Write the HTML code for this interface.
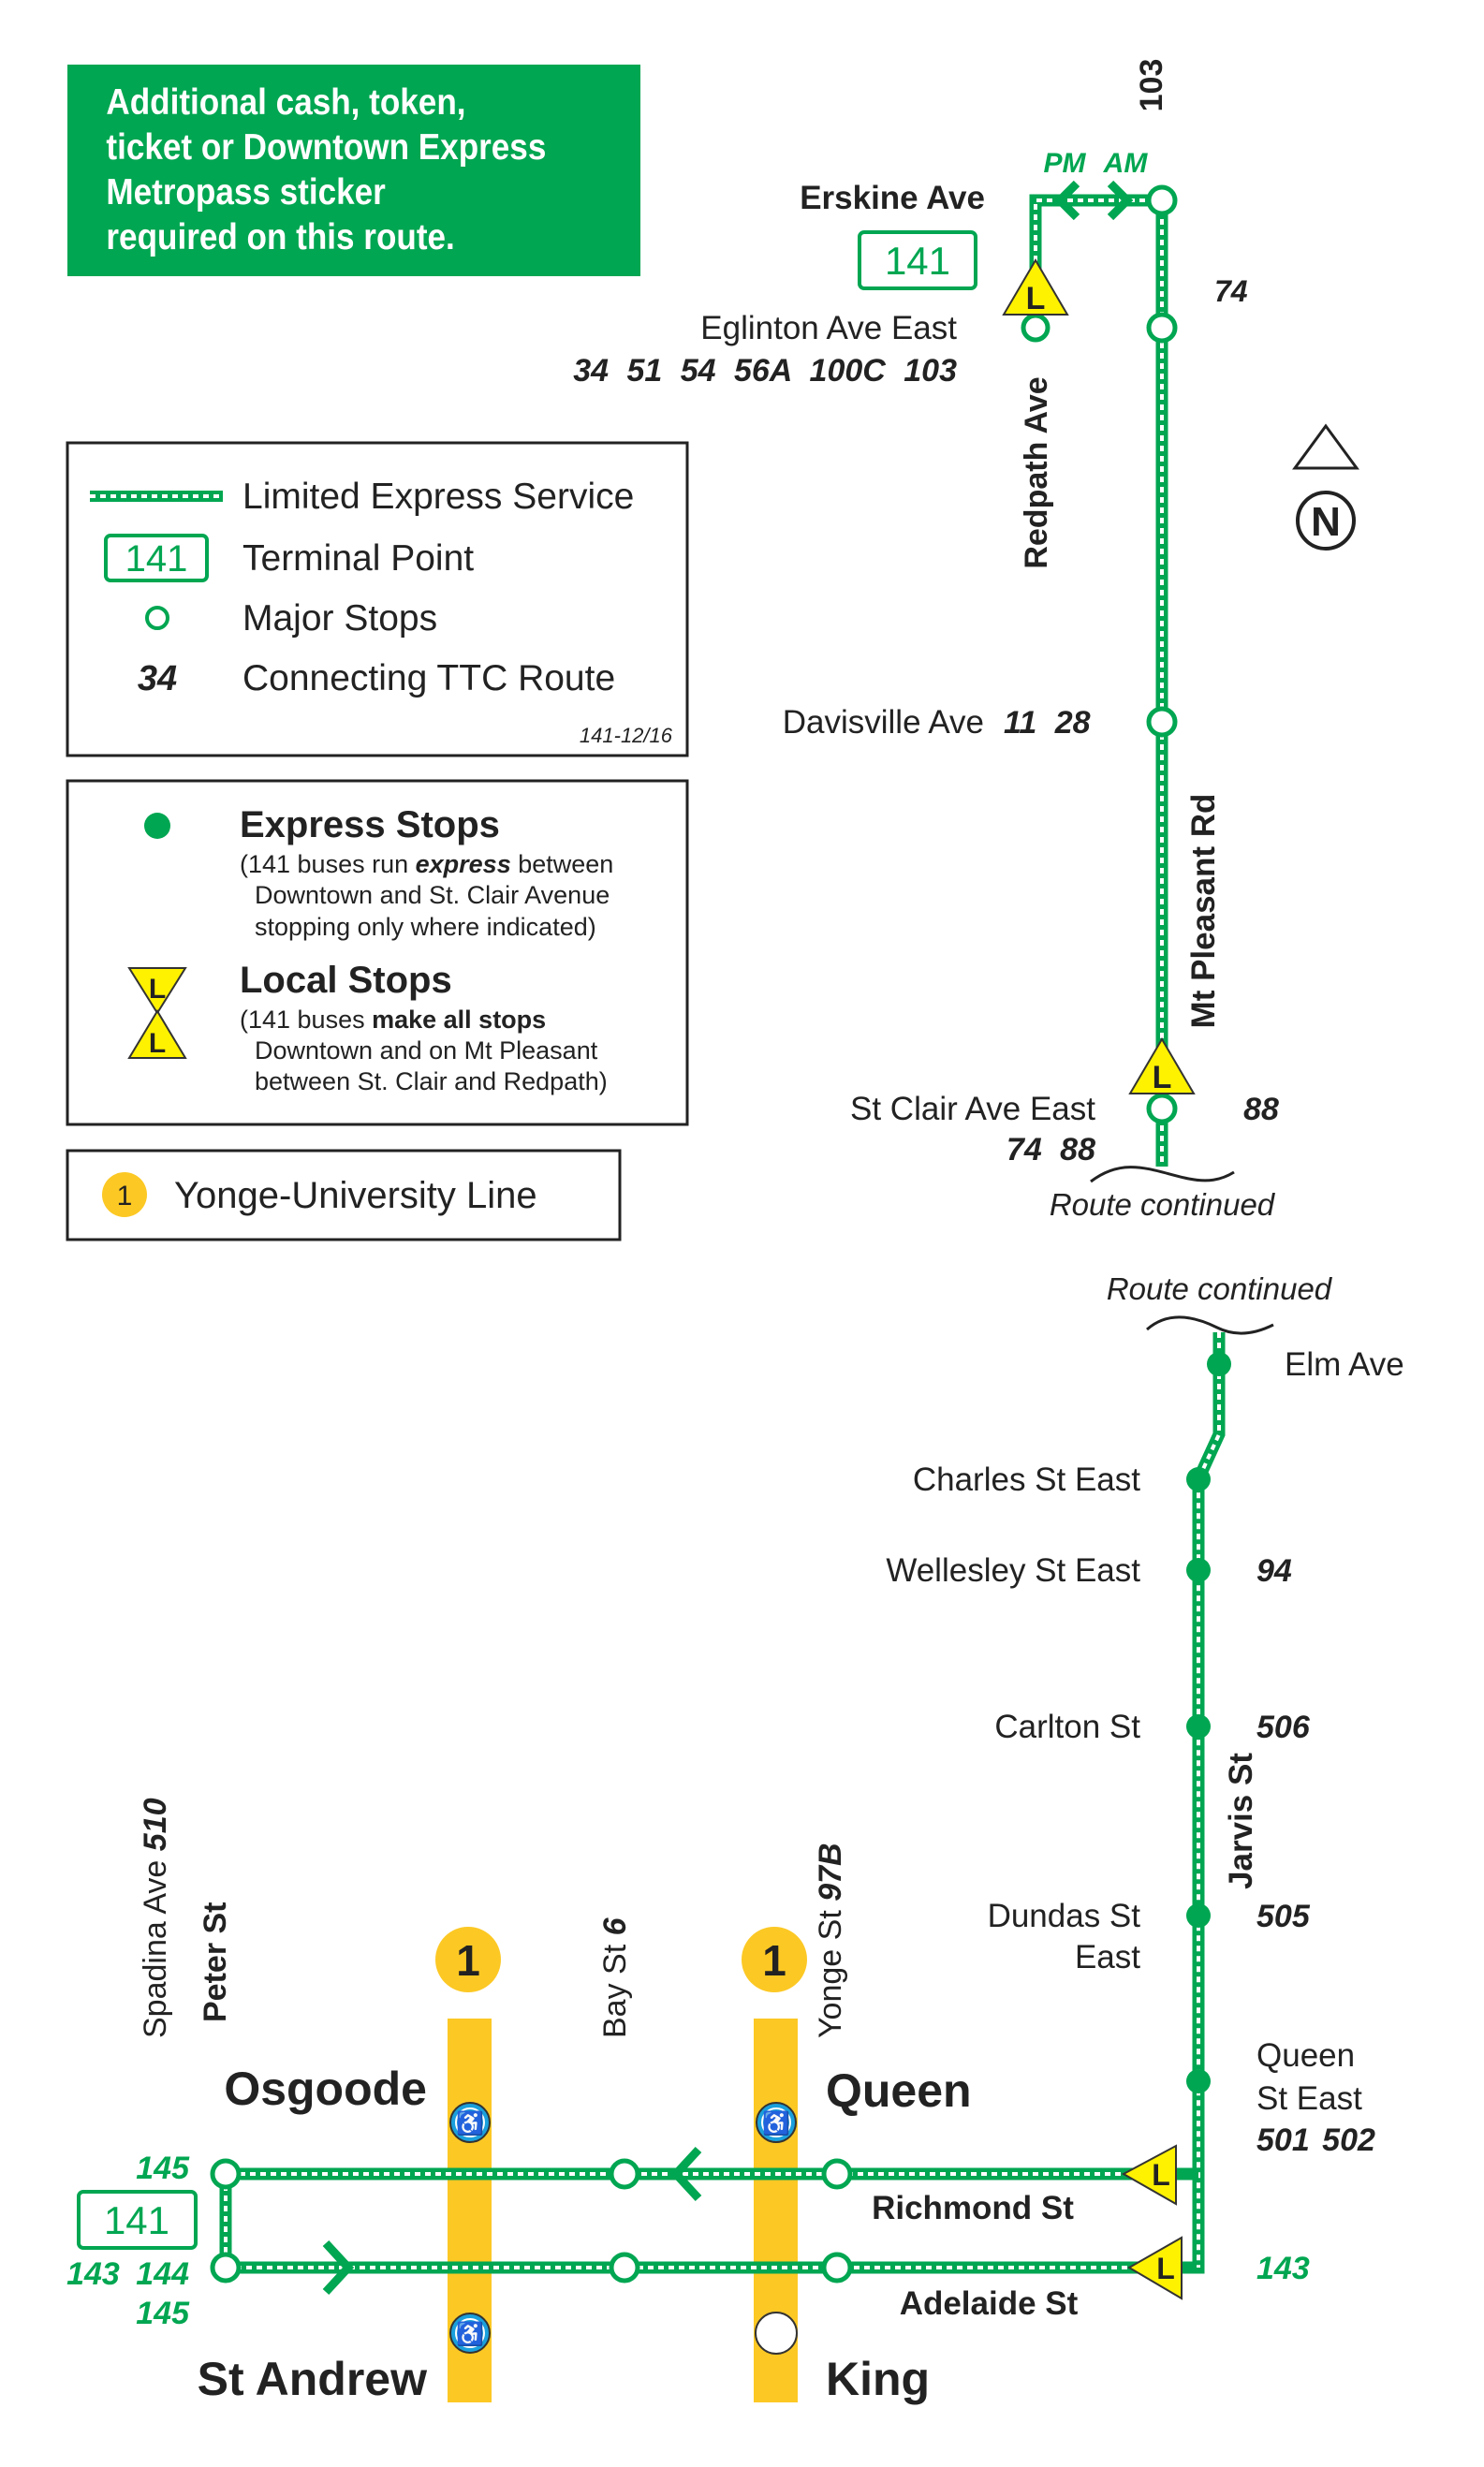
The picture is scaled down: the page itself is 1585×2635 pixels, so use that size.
<!DOCTYPE html>
<html><head><meta charset="utf-8"><style>
html,body{margin:0;padding:0;background:#fff}
svg{display:block}
text{font-family:"Liberation Sans",sans-serif}
</style></head><body>
<svg width="1585" height="2635" viewBox="0 0 1585 2635" xmlns="http://www.w3.org/2000/svg">
<defs>
<g id="tri"><polygon points="0,-32 -34,26 34,26" fill="#fff200" stroke="#333" stroke-width="2"/><text x="0" y="20" font-size="34" font-weight="bold" text-anchor="middle" fill="#222">L</text></g>
<g id="wc"><circle r="21" fill="#1aa0dc" stroke="#333" stroke-width="2"/><circle r="15" fill="none" stroke="#fff" stroke-width="2"/><text y="9" font-size="24" text-anchor="middle" fill="#fff">♿</text></g>
</defs>
<!-- top green box -->
<rect x="72" y="69" width="612" height="226" fill="#00a651"/>
<g font-size="39" font-weight="bold" fill="#fff" transform="scale(0.9,1)">
<text x="126" y="122">Additional cash, token,</text>
<text x="126" y="170">ticket or Downtown Express</text>
<text x="126" y="218">Metropass sticker</text>
<text x="126" y="266">required on this route.</text>
</g>

<!-- Northern route lines -->
<g fill="none">
<polyline points="1106,312 1106,214 1241,214 1241,1246" stroke="#00a651" stroke-width="13"/>
<polyline points="1106,312 1106,214 1241,214 1241,1246" stroke="#fff" stroke-width="4" stroke-dasharray="6 5"/>
<line x1="1106" y1="312" x2="1106" y2="350" stroke="#00a651" stroke-width="6"/>
</g>
<polyline points="1130,196 1148,214 1130,232" fill="none" stroke="#00a651" stroke-width="9" transform="rotate(180 1140 214)"/>
<polyline points="1186,196 1204,214 1186,232" fill="none" stroke="#00a651" stroke-width="9"/>
<g fill="#fff" stroke="#00a651" stroke-width="5">
<circle cx="1241" cy="214" r="14"/><circle cx="1241" cy="350" r="14"/><circle cx="1106" cy="350" r="13"/>
<circle cx="1241" cy="771" r="14"/><circle cx="1241" cy="1184" r="14"/>
</g>
<use href="#tri" x="1106" y="310"/>
<use href="#tri" x="1241" y="1142"/>
<path d="M1165,1262 C1200,1235 1230,1250 1265,1258 C1290,1264 1305,1260 1318,1252" fill="none" stroke="#222" stroke-width="3"/>

<text x="1251" y="101" font-size="34" font-weight="bold" fill="#222" text-anchor="middle" transform="rotate(-90 1241 101)">103</text>
<text x="1137" y="184" font-size="30" font-weight="bold" font-style="italic" fill="#00a651" text-anchor="middle">PM</text>
<text x="1202" y="184" font-size="30" font-weight="bold" font-style="italic" fill="#00a651" text-anchor="middle">AM</text>
<text x="1052" y="223" font-size="35" font-weight="bold" fill="#222" text-anchor="end">Erskine Ave</text>
<rect x="918" y="248" width="124" height="60" rx="5" fill="#fff" stroke="#00a651" stroke-width="4"/>
<text x="980" y="293" font-size="42" fill="#00a651" text-anchor="middle">141</text>
<text x="1297" y="322" font-size="32" font-weight="bold" font-style="italic" fill="#222">74</text>
<text x="1022" y="362" font-size="35" fill="#222" text-anchor="end">Eglinton Ave East</text>
<text x="1022" y="407" font-size="34" font-weight="bold" font-style="italic" fill="#222" text-anchor="end" word-spacing="10">34 51 54 56A 100C 103</text>
<text x="1106" y="517" font-size="34" font-weight="bold" fill="#222" text-anchor="middle" transform="rotate(-90 1106 505)">Redpath Ave</text>
<polygon points="1416,455 1383,500 1449,500" fill="none" stroke="#222" stroke-width="3"/>
<circle cx="1416" cy="556" r="30" fill="none" stroke="#222" stroke-width="4"/>
<text x="1416" y="572" font-size="44" font-weight="bold" fill="#222" text-anchor="middle">N</text>
<text x="1051" y="783" font-size="35" fill="#222" text-anchor="end">Davisville Ave</text>
<text x="1072" y="783" font-size="34" font-weight="bold" font-style="italic" fill="#222" word-spacing="10">11 28</text>
<text x="1285" y="985" font-size="35" font-weight="bold" fill="#222" text-anchor="middle" transform="rotate(-90 1285 973)">Mt Pleasant Rd</text>
<text x="1170" y="1196" font-size="35" fill="#222" text-anchor="end">St Clair Ave East</text>
<text x="1170" y="1239" font-size="34" font-weight="bold" font-style="italic" fill="#222" text-anchor="end" word-spacing="10">74 88</text>
<text x="1347" y="1196" font-size="34" font-weight="bold" font-style="italic" fill="#222" text-anchor="middle">88</text>
<text x="1241" y="1298" font-size="33" font-style="italic" fill="#222" text-anchor="middle">Route continued</text>

<!-- Legend 1 -->
<rect x="72" y="473" width="662" height="334" fill="#fff" stroke="#222" stroke-width="3"/>
<line x1="96" y1="530" x2="238" y2="530" stroke="#00a651" stroke-width="12"/>
<line x1="96" y1="530" x2="238" y2="530" stroke="#fff" stroke-width="4" stroke-dasharray="6 5"/>
<rect x="113" y="572" width="108" height="48" rx="5" fill="#fff" stroke="#00a651" stroke-width="4"/>
<text x="167" y="610" font-size="40" fill="#00a651" text-anchor="middle">141</text>
<circle cx="168" cy="660" r="11" fill="#fff" stroke="#00a651" stroke-width="4"/>
<text x="168" y="737" font-size="38" font-weight="bold" font-style="italic" fill="#222" text-anchor="middle">34</text>
<g font-size="39" fill="#222">
<text x="259" y="543">Limited Express Service</text>
<text x="259" y="609">Terminal Point</text>
<text x="259" y="673">Major Stops</text>
<text x="259" y="737">Connecting TTC Route</text>
</g>
<text x="718" y="793" font-size="22" font-style="italic" fill="#222" text-anchor="end">141-12/16</text>

<!-- Legend 2 -->
<rect x="72" y="834" width="662" height="367" fill="#fff" stroke="#222" stroke-width="3"/>
<circle cx="168" cy="882" r="14" fill="#00a651"/>
<text x="256" y="894" font-size="40" font-weight="bold" fill="#222">Express Stops</text>
<g font-size="27" fill="#222">
<text x="256" y="932">(141 buses run <tspan font-weight="bold" font-style="italic">express</tspan> between</text>
<text x="272" y="965">Downtown and St. Clair Avenue</text>
<text x="272" y="999">stopping only where indicated)</text>
</g>
<polygon points="138,1034 198,1034 168,1082" fill="#fff200" stroke="#333" stroke-width="2"/>
<text x="168" y="1066" font-size="30" font-weight="bold" fill="#222" text-anchor="middle">L</text>
<polygon points="168,1080 138,1130 198,1130" fill="#fff200" stroke="#333" stroke-width="2"/>
<text x="168" y="1124" font-size="30" font-weight="bold" fill="#222" text-anchor="middle">L</text>
<text x="256" y="1060" font-size="40" font-weight="bold" fill="#222">Local Stops</text>
<g font-size="27" fill="#222">
<text x="256" y="1098">(141 buses <tspan font-weight="bold">make all stops</tspan></text>
<text x="272" y="1131">Downtown and on Mt Pleasant</text>
<text x="272" y="1164">between St. Clair and Redpath)</text>
</g>

<!-- Legend 3 -->
<rect x="72" y="1229" width="590" height="95" fill="#fff" stroke="#222" stroke-width="3"/>
<circle cx="133" cy="1276" r="24" fill="#fcc824"/>
<text x="133" y="1287" font-size="30" fill="#222" text-anchor="middle">1</text>
<text x="186" y="1290" font-size="40" fill="#222">Yonge-University Line</text>

<!-- Southern section -->
<text x="1302" y="1388" font-size="33" font-style="italic" fill="#222" text-anchor="middle">Route continued</text>
<path d="M1225,1420 C1250,1398 1280,1408 1300,1418 C1320,1428 1340,1425 1360,1415" fill="none" stroke="#222" stroke-width="3"/>

<!-- subway bars -->
<rect x="478" y="2156" width="47" height="410" fill="#fcc824"/>
<rect x="805" y="2156" width="47" height="410" fill="#fcc824"/>
<circle cx="500" cy="2093" r="35" fill="#fcc824"/>
<circle cx="827" cy="2093" r="35" fill="#fcc824"/>
<text x="500" y="2110" font-size="46" font-weight="bold" fill="#222" text-anchor="middle">1</text>
<text x="827" y="2110" font-size="46" font-weight="bold" fill="#222" text-anchor="middle">1</text>

<g fill="none">
<polyline points="1302,1423 1302,1532 1280,1580 1280,2422 1241,2422" stroke="#00a651" stroke-width="13"/>
<polyline points="1302,1423 1302,1532 1280,1580 1280,2422" stroke="#fff" stroke-width="4" stroke-dasharray="6 5"/>
<polyline points="1280,2322 241,2322 241,2422 1230,2422" stroke="#00a651" stroke-width="13"/>
<polyline points="1230,2322 241,2322 241,2422 1230,2422" stroke="#fff" stroke-width="4" stroke-dasharray="6 5"/>
</g>
<polyline points="746,2296 722,2322 746,2348" fill="none" stroke="#00a651" stroke-width="9"/>
<polyline points="348,2396 372,2422 348,2448" fill="none" stroke="#00a651" stroke-width="9"/>
<g fill="#00a651">
<circle cx="1302" cy="1457" r="13"/><circle cx="1280" cy="1580" r="13"/><circle cx="1280" cy="1677" r="13"/>
<circle cx="1280" cy="1844" r="13"/><circle cx="1280" cy="2046" r="13"/><circle cx="1280" cy="2223" r="13"/>
</g>
<g fill="#fff" stroke="#00a651" stroke-width="5">
<circle cx="241" cy="2322" r="14"/><circle cx="241" cy="2422" r="14"/>
<circle cx="667" cy="2322" r="14"/><circle cx="667" cy="2422" r="14"/>
<circle cx="894" cy="2322" r="14"/><circle cx="894" cy="2422" r="14"/>
</g>
<g>
<polygon points="1200,2322 1256,2292 1256,2354" fill="#fff200" stroke="#333" stroke-width="2"/>
<text x="1240" y="2334" font-size="32" font-weight="bold" fill="#222" text-anchor="middle">L</text>
<polygon points="1206,2422 1262,2390 1262,2455" fill="#fff200" stroke="#333" stroke-width="2"/>
<text x="1245" y="2434" font-size="32" font-weight="bold" fill="#222" text-anchor="middle">L</text>
</g>
<use href="#wc" x="502" y="2267"/>
<use href="#wc" x="829" y="2267"/>
<use href="#wc" x="502" y="2492"/>
<circle cx="829" cy="2492" r="22" fill="#fff" stroke="#333" stroke-width="2"/>

<g font-size="35" fill="#222">
<text x="1372" y="1469">Elm Ave</text>
<text x="1218" y="1592" text-anchor="end">Charles St East</text>
<text x="1218" y="1689" text-anchor="end">Wellesley St East</text>
<text x="1218" y="1856" text-anchor="end">Carlton St</text>
<text x="1218" y="2058" text-anchor="end">Dundas St</text>
<text x="1218" y="2102" text-anchor="end">East</text>
<text x="1342" y="2207">Queen</text>
<text x="1342" y="2253">St East</text>
</g>
<g font-size="34" font-weight="bold" font-style="italic" fill="#222">
<text x="1342" y="1689">94</text>
<text x="1342" y="1856">506</text>
<text x="1342" y="2058">505</text>
<text x="1342" y="2297" word-spacing="4">501 502</text>
</g>
<text x="1342" y="2434" font-size="34" font-weight="bold" font-style="italic" fill="#00a651">143</text>
<text x="1325" y="1957" font-size="35" font-weight="bold" fill="#222" text-anchor="middle" transform="rotate(-90 1325 1945)">Jarvis St</text>

<text x="189" y="2189" font-size="34" fill="#222" transform="rotate(-90 177 2189)">Spadina Ave <tspan font-weight="bold" font-style="italic">510</tspan></text>
<text x="253" y="2172" font-size="34" font-weight="bold" fill="#222" transform="rotate(-90 241 2172)">Peter St</text>
<text x="680" y="2189" font-size="34" fill="#222" transform="rotate(-90 668 2189)">Bay St <tspan font-weight="bold" font-style="italic">6</tspan></text>
<text x="910" y="2189" font-size="34" fill="#222" transform="rotate(-90 898 2189)">Yonge St <tspan font-weight="bold" font-style="italic">97B</tspan></text>

<g font-size="50" font-weight="bold" fill="#222">
<text x="456" y="2248" text-anchor="end">Osgoode</text>
<text x="882" y="2250">Queen</text>
<text x="456" y="2558" text-anchor="end">St Andrew</text>
<text x="882" y="2558">King</text>
</g>
<text x="1039" y="2370" font-size="35" font-weight="bold" fill="#222" text-anchor="middle">Richmond St</text>
<text x="1056" y="2472" font-size="35" font-weight="bold" fill="#222" text-anchor="middle">Adelaide St</text>

<rect x="84" y="2341" width="125" height="60" rx="5" fill="#fff" stroke="#00a651" stroke-width="4"/>
<text x="146" y="2386" font-size="42" fill="#00a651" text-anchor="middle">141</text>
<g font-size="34" font-weight="bold" font-style="italic" fill="#00a651" text-anchor="end">
<text x="202" y="2327">145</text>
<text x="202" y="2440" word-spacing="8">143 144</text>
<text x="202" y="2482">145</text>
</g>
</svg>
</body></html>
